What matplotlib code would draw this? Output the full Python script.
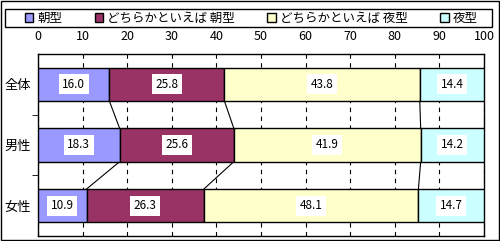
import numpy as np
import matplotlib.pyplot as plt
from matplotlib.patches import Rectangle

plt.rcParams['font.family'] = ['Noto Sans CJK JP', 'DejaVu Sans']

# data
groups = ['全体', '男性', '女性']
series = ['朝型', 'どちらかといえば 朝型', 'どちらかといえば 夜型', '夜型']
asa = [16.0, 18.3, 10.9]
yaya_asa = [25.8, 25.6, 26.3]
yaya_yoru = [43.8, 41.9, 48.1]
yoru = [14.4, 14.2, 14.7]
colors = ['#9999FF', '#993366', '#FFFFCC', '#CCFFFF']
xticks = [0, 10, 20, 30, 40, 50, 60, 70, 80, 90, 100]

fig = plt.figure(figsize=(5.0, 2.41), dpi=100)
# outer frame and legend frame
fig.patches.append(Rectangle((0.002, 0.004), 0.996, 0.992, transform=fig.transFigure,
                             fill=False, edgecolor='black', linewidth=1))
fig.patches.append(Rectangle((5 / 500, 1 - 27 / 241), 487 / 500, 18 / 241,
                             transform=fig.transFigure, fill=False,
                             edgecolor='black', linewidth=1))
ax = fig.add_axes([38 / 500, 5 / 241, 446 / 500, 182 / 241])

vals = np.array([asa, yaya_asa, yaya_yoru, yoru])
ypos = np.arange(len(groups))
h = 0.55
left = np.zeros(len(groups))
for i, name in enumerate(series):
    ax.barh(ypos, vals[i], h, left=left, color=colors[i], edgecolor='black',
            linewidth=1, label=name, zorder=3)
    for j in range(len(groups)):
        ax.text(left[j] + vals[i][j] / 2, ypos[j], f'{vals[i][j]:.1f}', ha='center',
                va='center', fontsize=8.5, zorder=5,
                bbox=dict(facecolor='white', edgecolor='none', pad=2.5))
    left = left + vals[i]

# series lines between bars
cum = np.cumsum(vals, axis=0)
for k in range(3):
    for j in range(len(groups) - 1):
        ax.plot([cum[k][j], cum[k][j + 1]], [ypos[j] + h / 2, ypos[j + 1] - h / 2],
                color='black', linewidth=0.8, zorder=2)

ax.set_xlim(0, 100)
ax.set_ylim(2.5, -0.5)
ax.set_xticks(xticks)
ax.xaxis.tick_top()
ax.tick_params(axis='x', length=0, labelsize=9, pad=8)
ax.set_yticks(ypos)
ax.set_yticklabels(groups, fontsize=9.5)
ax.tick_params(axis='y', length=0, pad=5)
ax.set_yticks([0.5, 1.5], minor=True)
ax.tick_params(axis='y', which='minor', length=4, direction='out')
ax.grid(axis='x', linestyle=(0, (4, 4)), color='black', linewidth=0.8, zorder=1)
for s in ax.spines.values():
    s.set_linewidth(1)

fig.legend(loc='center', bbox_to_anchor=(251 / 500, 1 - 18 / 241), ncol=4,
           fontsize=9, frameon=False, handlelength=0.7, handleheight=0.7,
           handletextpad=0.3, columnspacing=2.6, borderpad=0.1)

fig.savefig('out.png', dpi=100)
